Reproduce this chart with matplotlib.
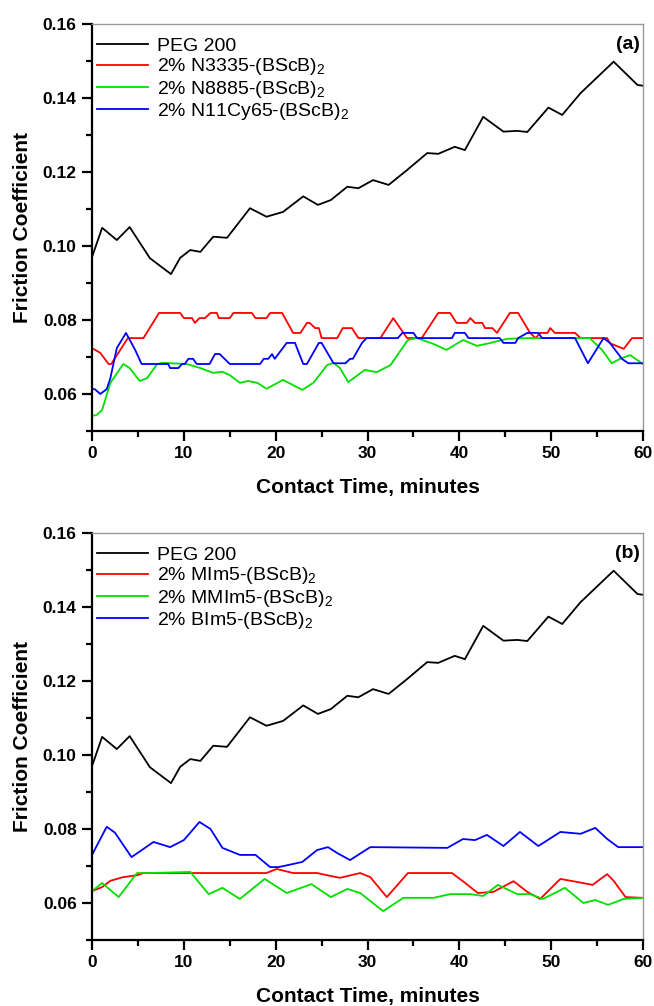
import numpy as np
import matplotlib
matplotlib.use("Agg")
import matplotlib.pyplot as plt
from matplotlib.ticker import MultipleLocator

plt.rcParams['font.family'] = ['Liberation Sans', 'DejaVu Sans']
plt.rcParams['mathtext.fontset'] = 'custom'
plt.rcParams['mathtext.rm'] = 'Liberation Sans'
plt.rcParams['mathtext.it'] = 'Liberation Sans'

# PEG 200 (same in both panels)
peg_t = [0, 1.1, 2.7, 4.1, 6.3, 8.6, 9.6, 10.7, 11.8, 13.2, 14.7, 17.2, 19.0, 20.8, 23.0,
         24.6, 26.0, 27.8, 29.0, 30.6, 32.3, 34.3, 36.5, 37.7, 39.5, 40.6, 42.6, 44.8,
         46.3, 47.4, 49.7, 51.2, 53.2, 56.8, 59.4, 60]
peg_y = [0.0970, 0.1049, 0.1016, 0.1051, 0.0967, 0.0924, 0.0968, 0.0989, 0.0984, 0.1025,
         0.1022, 0.1102, 0.1079, 0.1092, 0.1134, 0.1111, 0.1124, 0.1160, 0.1156, 0.1178,
         0.1165, 0.1205, 0.1251, 0.1249, 0.1268, 0.1259, 0.1349, 0.1309, 0.1311, 0.1308,
         0.1374, 0.1354, 0.1413, 0.1498, 0.1435, 0.1433]

# panel (a)
n3335_t = [0, 0.9, 1.8, 2.1, 3.9, 5.6, 7.3, 9.6, 10.0, 10.9, 11.2, 11.7, 12.3, 12.9, 13.6,
           13.8, 15.0, 15.4, 17.4, 17.8, 19.0, 19.4, 20.7, 21.9, 22.7, 23.4, 23.7, 24.3,
           24.7, 25.0, 26.7, 27.3, 28.3, 29.0, 31.4, 32.8, 34.3, 35.9, 37.7, 39.0, 39.7,
           40.8, 41.2, 41.7, 42.5, 42.8, 43.6, 44.1, 45.5, 46.4, 47.7, 48.3, 48.8, 49.6,
           49.9, 50.4, 52.6, 53.2, 56.1, 56.4, 57.9, 58.8, 60]
n3335_y = [0.0724, 0.0711, 0.0681, 0.0681, 0.0751, 0.0751, 0.0819, 0.0819, 0.0805, 0.0805,
           0.0792, 0.0805, 0.0805, 0.0819, 0.0819, 0.0805, 0.0805, 0.0819, 0.0819, 0.0805,
           0.0805, 0.0819, 0.0819, 0.0765, 0.0765, 0.0792, 0.0792, 0.0778, 0.0778, 0.0751,
           0.0751, 0.0778, 0.0778, 0.0751, 0.0751, 0.0805, 0.0751, 0.0751, 0.0819, 0.0819,
           0.0792, 0.0792, 0.0805, 0.0792, 0.0792, 0.0778, 0.0778, 0.0765, 0.0819, 0.0819,
           0.0765, 0.0751, 0.0765, 0.0765, 0.0778, 0.0765, 0.0765, 0.0751, 0.0751, 0.0737,
           0.0722, 0.0751, 0.0751]

n8885_t = [0, 0.5, 1.1, 2.0, 3.4, 4.1, 5.2, 6.0, 7.1, 7.7, 10.3, 11.8, 13.2, 14.2, 15.0,
           16.1, 17.0, 18.0, 19.0, 20.8, 22.9, 24.1, 25.6, 26.3, 27.0, 27.9, 29.7, 31.0,
           32.5, 34.4, 35.4, 37.2, 38.6, 40.4, 41.9, 43.4, 45.2, 47.4, 54.2, 55.5, 56.6,
           57.5, 58.6, 60]
n8885_y = [0.0541, 0.0543, 0.0557, 0.0630, 0.0681, 0.0670, 0.0635, 0.0643, 0.0681, 0.0684,
           0.0681, 0.0670, 0.0657, 0.0660, 0.0651, 0.0630, 0.0635, 0.0630, 0.0614, 0.0638,
           0.0611, 0.0630, 0.0678, 0.0684, 0.0670, 0.0632, 0.0665, 0.0659, 0.0678, 0.0746,
           0.0751, 0.0735, 0.0719, 0.0746, 0.0730, 0.0738, 0.0749, 0.0751, 0.0751, 0.0720,
           0.0683, 0.0695, 0.0705, 0.0681]

n11cy65_t = [0, 0.3, 0.9, 1.6, 2.0, 2.7, 3.7, 4.7, 5.4, 8.3, 8.5, 9.4, 9.8, 10.1, 10.5,
             11.0, 11.4, 12.8, 13.4, 13.9, 15.0, 18.3, 18.7, 19.2, 19.6, 19.9, 21.2, 22.1,
             23.0, 23.4, 24.7, 25.0, 26.3, 27.6, 28.1, 28.4, 29.4, 29.9, 33.3, 33.8, 35.0,
             35.4, 39.2, 39.5, 40.6, 41.0, 44.4, 44.8, 46.1, 46.4, 47.4, 48.6, 49.0, 52.6,
             54.0, 55.7, 56.4, 57.7, 58.4, 60]
n11cy65_y = [0.0613, 0.0613, 0.0600, 0.0613, 0.0643, 0.0724, 0.0765, 0.0719, 0.0681, 0.0681,
             0.0670, 0.0670, 0.0681, 0.0681, 0.0695, 0.0695, 0.0681, 0.0681, 0.0708, 0.0708,
             0.0681, 0.0681, 0.0695, 0.0695, 0.0708, 0.0695, 0.0738, 0.0738, 0.0681, 0.0681,
             0.0738, 0.0738, 0.0683, 0.0683, 0.0695, 0.0695, 0.0738, 0.0751, 0.0751, 0.0765,
             0.0765, 0.0751, 0.0751, 0.0765, 0.0765, 0.0751, 0.0751, 0.0738, 0.0738, 0.0751,
             0.0765, 0.0765, 0.0751, 0.0751, 0.0683, 0.0751, 0.0738, 0.0695, 0.0683, 0.0683]

# panel (b)
mim5_t = [0, 1.1, 2.0, 3.4, 4.9, 5.6, 19.0, 20.1, 21.9, 24.5, 26.0, 27.0, 29.2, 30.3, 32.1,
          34.4, 39.2, 40.8, 42.0, 43.7, 45.9, 47.4, 48.8, 51.0, 52.8, 54.5, 56.1, 56.8,
          58.1, 60]
mim5_y = [0.0632, 0.0643, 0.0660, 0.0670, 0.0675, 0.0681, 0.0681, 0.0692, 0.0681, 0.0681,
          0.0673, 0.0668, 0.0681, 0.0670, 0.0616, 0.0681, 0.0681, 0.0651, 0.0627, 0.0630,
          0.0659, 0.0630, 0.0611, 0.0665, 0.0657, 0.0649, 0.0678, 0.0660, 0.0616, 0.0614]

mmim5_t = [0, 1.1, 2.9, 4.9, 6.3, 10.7, 12.7, 14.2, 16.1, 18.8, 21.2, 23.9, 26.0, 27.8,
           29.2, 31.7, 33.9, 37.2, 39.0, 41.2, 42.6, 44.2, 46.3, 47.7, 49.1, 51.5, 53.5,
           54.8, 56.2, 57.9, 60]
mmim5_y = [0.0632, 0.0654, 0.0616, 0.0681, 0.0681, 0.0684, 0.0624, 0.0641, 0.0611, 0.0665,
           0.0627, 0.0651, 0.0616, 0.0638, 0.0627, 0.0578, 0.0614, 0.0614, 0.0624, 0.0624,
           0.0619, 0.0649, 0.0624, 0.0624, 0.0611, 0.0641, 0.0600, 0.0608, 0.0595, 0.0611,
           0.0614]

bim5_t = [0, 1.6, 2.5, 4.3, 6.7, 8.5, 10.0, 11.7, 12.9, 14.2, 16.1, 17.8, 19.4, 20.3, 21.8,
          22.9, 24.5, 25.7, 26.7, 28.1, 30.3, 38.7, 40.4, 41.7, 43.0, 44.8, 46.6, 48.6,
          51.0, 53.2, 54.8, 56.1, 57.3, 60]
bim5_y = [0.0730, 0.0806, 0.0790, 0.0724, 0.0765, 0.0751, 0.0770, 0.0819, 0.0800, 0.0749,
          0.0730, 0.0730, 0.0697, 0.0697, 0.0705, 0.0711, 0.0743, 0.0751, 0.0735, 0.0716,
          0.0751, 0.0749, 0.0773, 0.0770, 0.0784, 0.0754, 0.0792, 0.0754, 0.0792, 0.0787,
          0.0803, 0.0773, 0.0751, 0.0751]

panels = [
    ("(a)", [("PEG 200", peg_t, peg_y, "black"),
             ("2% N3335-(BScB)$_2$", n3335_t, n3335_y, "#ff0000"),
             ("2% N8885-(BScB)$_2$", n8885_t, n8885_y, "#00e000"),
             ("2% N11Cy65-(BScB)$_2$", n11cy65_t, n11cy65_y, "#0000ff")]),
    ("(b)", [("PEG 200", peg_t, peg_y, "black"),
             ("2% MIm5-(BScB)$_2$", mim5_t, mim5_y, "#ff0000"),
             ("2% MMIm5-(BScB)$_2$", mmim5_t, mmim5_y, "#00e000"),
             ("2% BIm5-(BScB)$_2$", bim5_t, bim5_y, "#0000ff")]),
]

fig = plt.figure(figsize=(6.54, 10.06), dpi=100)
axes_pos = [[0.1407, 0.5716, 0.8425, 0.4046], [0.1407, 0.0656, 0.8425, 0.4046]]

for pos, (tag, series) in zip(axes_pos, panels):
    ax = fig.add_axes(pos)
    for label, t, y, color in series:
        ax.plot(t, y, color=color, lw=1.3, label=label)
    ax.set_xlim(0, 60)
    ax.set_ylim(0.05, 0.16)
    ax.xaxis.set_major_locator(MultipleLocator(10))
    ax.xaxis.set_minor_locator(MultipleLocator(5))
    ax.set_yticks([0.06, 0.08, 0.10, 0.12, 0.14, 0.16])
    ax.set_yticks([0.05, 0.07, 0.09, 0.11, 0.13, 0.15], minor=True)
    ax.set_yticklabels(['0.06', '0.08', '0.10', '0.12', '0.14', '0.16'])
    ax.tick_params(which='major', direction='out', length=7, width=1.6, labelsize=12.5, pad=4)
    ax.tick_params(which='minor', direction='out', length=4, width=1.6)
    for lab in ax.get_xticklabels() + ax.get_yticklabels():
        lab.set_fontweight('bold')
    for s in ['left', 'bottom']:
        ax.spines[s].set_linewidth(1.6)
    for s in ['top', 'right']:
        ax.spines[s].set_linewidth(1.0)
        ax.spines[s].set_color('#999999')
    ax.set_xlabel('Contact Time, minutes', fontsize=15, fontweight='bold', labelpad=12)
    ax.set_ylabel('Friction Coefficient', fontsize=15, fontweight='bold', labelpad=8)
    ax.text(0.995, 0.97, tag, transform=ax.transAxes, ha='right', va='top',
            fontsize=14, fontweight='bold')
    ax.legend(loc='upper left', bbox_to_anchor=(-0.012, 0.995), frameon=False, fontsize=14,
              handlelength=2.6, handletextpad=0.5, labelspacing=0.06, borderaxespad=0.2)

fig.savefig('out.png', dpi=100)
